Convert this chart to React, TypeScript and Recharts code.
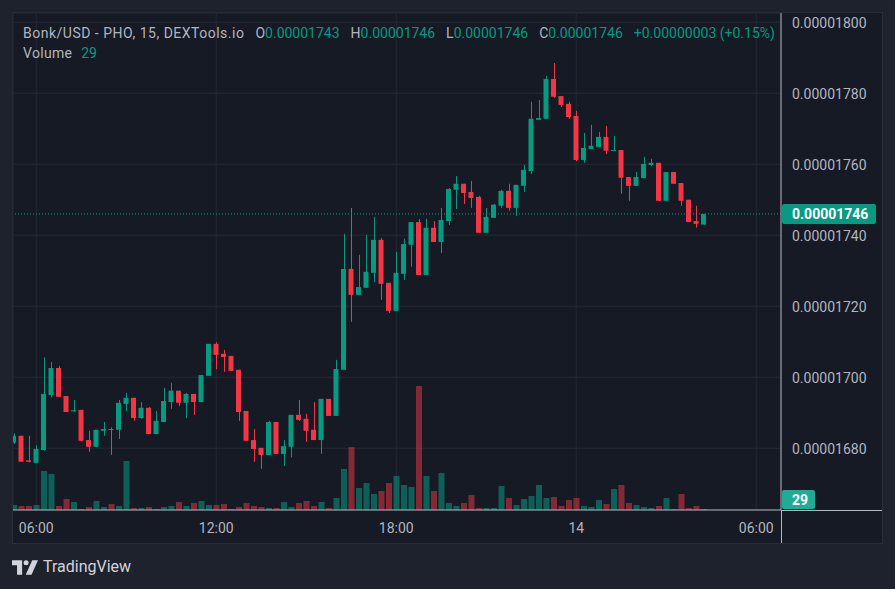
import React from 'react';
import { ComposedChart, Bar, XAxis, YAxis, CartesianGrid, ReferenceLine, Cell } from 'recharts';

// prices are in units of 1e-8 USD, one entry per 15 min candle
const opens = [
  1681.6, 1683.5, 1676.6, 1675.9, 1679.5, 1695.0, 1702.6, 1694.7, 1690.4, 1690.8,
  1682.3, 1680.4, 1684.9, 1685.4, 1685.2, 1692.5, 1694.2, 1688.5, 1691.4, 1684.0,
  1687.4, 1693.0, 1696.2, 1692.8, 1695.3, 1693.0, 1700.4, 1709.4, 1706.6, 1706.0,
  1702.1, 1690.5, 1682.3, 1680.1, 1678.1, 1687.4, 1678.4, 1680.4, 1689.4, 1688.3,
  1685.2, 1682.3, 1693.9, 1689.1, 1702.1, 1730.5, 1723.2, 1725.2, 1729.4, 1738.7,
  1726.6, 1718.7, 1729.1, 1737.3, 1743.7, 1728.8, 1742.1, 1738.1, 1744.0, 1752.8,
  1754.5, 1752.2, 1750.8, 1740.7, 1744.9, 1748.3, 1752.5, 1747.7, 1753.9, 1758.1,
  1772.5, 1772.8, 1784.0, 1779.2, 1777.0, 1773.6, 1761.2, 1764.3, 1764.9, 1767.7,
  1763.8, 1764.0, 1756.4, 1753.9, 1756.1, 1759.8, 1760.4, 1749.7, 1757.8, 1754.7,
  1750.0, 1744.0, 1743.0,
];
const highs = [
  1684.2, 1683.5, 1683.5, 1680.8, 1705.6, 1704.3, 1703.2, 1694.7, 1693.6, 1690.8,
  1684.9, 1685.2, 1687.4, 1685.9, 1693.6, 1695.6, 1694.2, 1693.0, 1691.6, 1690.5,
  1697.0, 1698.4, 1696.2, 1695.6, 1695.3, 1700.6, 1709.4, 1709.9, 1707.7, 1706.0,
  1702.1, 1690.5, 1685.4, 1680.1, 1687.7, 1687.4, 1682.3, 1689.4, 1693.6, 1689.7,
  1693.0, 1693.9, 1693.9, 1704.9, 1740.4, 1747.7, 1734.5, 1740.1, 1745.2, 1739.2,
  1726.6, 1735.3, 1739.0, 1743.7, 1744.6, 1744.6, 1744.0, 1747.7, 1753.3, 1756.7,
  1754.5, 1755.3, 1751.1, 1747.7, 1748.8, 1752.8, 1754.5, 1754.2, 1759.8, 1777.6,
  1778.1, 1784.9, 1788.5, 1779.2, 1777.6, 1775.0, 1768.8, 1771.1, 1769.1, 1770.8,
  1768.0, 1764.0, 1756.4, 1757.8, 1762.1, 1761.5, 1760.4, 1757.8, 1757.8, 1754.7,
  1750.0, 1748.3, 1746.0,
];
const lows = [
  1681.2, 1676.2, 1676.0, 1675.9, 1679.3, 1694.3, 1694.5, 1690.2, 1690.2, 1682.1,
  1679.0, 1680.4, 1683.5, 1678.1, 1682.6, 1690.5, 1687.7, 1688.3, 1684.0, 1684.0,
  1687.4, 1691.1, 1691.9, 1688.5, 1689.4, 1693.0, 1700.4, 1702.3, 1701.5, 1701.8,
  1687.7, 1682.1, 1676.1, 1674.2, 1678.1, 1678.4, 1675.0, 1677.4, 1687.7, 1681.8,
  1682.3, 1678.4, 1689.1, 1689.1, 1702.1, 1715.6, 1723.2, 1725.2, 1726.8, 1721.8,
  1718.1, 1718.7, 1727.4, 1731.1, 1728.8, 1728.8, 1738.1, 1735.0, 1742.9, 1747.4,
  1748.8, 1747.7, 1740.7, 1740.7, 1744.9, 1747.7, 1746.9, 1745.4, 1752.2, 1757.3,
  1772.5, 1772.8, 1778.7, 1776.1, 1772.8, 1760.9, 1760.4, 1764.3, 1764.9, 1762.9,
  1763.8, 1751.7, 1749.7, 1753.9, 1756.1, 1759.5, 1749.7, 1749.7, 1754.5, 1748.3,
  1743.7, 1742.1, 1743.0,
];
const closes = [
  1683.5, 1676.2, 1676.2, 1679.8, 1695.3, 1702.6, 1694.5, 1690.2, 1690.7, 1682.1,
  1680.4, 1685.2, 1685.4, 1685.2, 1692.8, 1694.2, 1688.5, 1691.4, 1684.0, 1687.7,
  1693.3, 1696.2, 1692.8, 1695.3, 1693.0, 1700.6, 1709.4, 1706.3, 1705.7, 1701.8,
  1690.2, 1682.1, 1679.8, 1678.1, 1687.4, 1678.4, 1680.6, 1689.4, 1688.0, 1684.9,
  1682.3, 1693.9, 1689.1, 1702.3, 1730.5, 1723.2, 1725.4, 1729.7, 1738.7, 1726.3,
  1718.7, 1729.4, 1737.5, 1743.7, 1728.8, 1742.1, 1738.1, 1744.3, 1753.0, 1754.5,
  1751.9, 1750.5, 1740.7, 1745.2, 1748.6, 1752.5, 1747.7, 1754.2, 1758.4, 1772.8,
  1773.0, 1784.0, 1779.0, 1776.7, 1773.3, 1761.2, 1764.6, 1765.2, 1767.7, 1763.8,
  1764.0, 1756.2, 1753.9, 1756.4, 1760.1, 1760.4, 1749.7, 1757.8, 1754.5, 1749.7,
  1743.7, 1743.2, 1746.0,
];
const volumes = [
  145, 116, 116, 145, 1131, 1044, 116, 319, 232, 29,
  87, 261, 87, 174, 116, 1421, 58, 58, 87, 29,
  87, 116, 232, 116, 203, 261, 145, 145, 174, 29,
  87, 203, 116, 87, 58, 58, 232, 87, 203, 261,
  116, 232, 58, 348, 1189, 1827, 638, 783, 464, 551,
  783, 986, 725, 667, 3596, 986, 551, 1073, 203, 116,
  203, 435, 58, 58, 58, 696, 348, 145, 319, 406,
  725, 348, 377, 116, 290, 348, 116, 87, 290, 174,
  609, 725, 203, 145, 87, 58, 116, 348, 29, 464,
  58, 116, 29,
];

const timeTicks = [3, 27, 51, 75, 99];
const timeLabels = ['06:00', '12:00', '18:00', '14', '06:00'];
const priceTicks = [1680, 1700, 1720, 1740, 1760, 1780, 1800];

const lastPrice = 1746;
const lastVolume = 29;
const header = { open: 1743, high: 1746, low: 1746, close: 1746, change: '+0.00000003 (+0.15%)' };

const UP = '#089981';
const DOWN = '#f23645';
const TEXT = '#b2b5be';
const FONT = 'Roboto, "Noto Sans", sans-serif';

const data = opens.map((open, i) => ({
  i,
  open,
  high: highs[i],
  low: lows[i],
  close: closes[i],
  volume: volumes[i],
}));

const fmt = (v: number) => (v / 1e8).toFixed(8);

const Candle = (props: any) => {
  const { x, y, width, height, payload } = props;
  const { open, close, high, low } = payload;
  const color = close >= open ? UP : DOWN;
  const top = Math.min(y, y + height);
  const h = Math.abs(height);
  const k = high > low ? h / (high - low) : 0;
  const yo = top + (high - open) * k;
  const yc = top + (high - close) * k;
  const cx = Math.round(x + width / 2) + 0.5;
  return (
    <g>
      <line x1={cx} x2={cx} y1={top} y2={top + h} stroke={color} strokeWidth={1} />
      <rect x={x} y={Math.min(yo, yc)} width={width} height={Math.max(1, Math.abs(yo - yc))} fill={color} />
    </g>
  );
};

const PriceTag = ({ viewBox }: any) => {
  if (!viewBox) return null;
  const x = viewBox.x + viewBox.width + 1;
  return (
    <g>
      <rect x={x} y={viewBox.y - 10} width={94} height={20} rx={2} fill={UP} />
      <text x={x + 10} y={viewBox.y + 5} fill="#fff" fontSize={14} fontWeight={700} fontFamily={FONT}>
        {fmt(lastPrice)}
      </text>
    </g>
  );
};

const VolumeTag = ({ viewBox }: any) => {
  if (!viewBox) return null;
  const x = viewBox.x + viewBox.width + 1;
  return (
    <g>
      <rect x={x} y={viewBox.y - 19} width={33} height={19} rx={2} fill="#22ab94" />
      <text x={x + 10} y={viewBox.y - 4} fill="#fff" fontSize={14} fontWeight={700} fontFamily={FONT}>
        {lastVolume}
      </text>
    </g>
  );
};

const xDomain = [-0.1, 102.3];

export default function App() {
  return (
    <div style={{ position: 'absolute', left: 0, top: 0, width: 895, height: 589, background: '#1e222d', fontFamily: FONT }}>
      <div style={{ position: 'absolute', left: 12, top: 12, width: 871, height: 532, boxSizing: 'border-box', border: '1px solid #2a2e39', background: '#161a25' }} />
      <div style={{ position: 'absolute', left: 781, top: 510, width: 1, height: 33, background: TEXT }} />
      <div style={{ position: 'absolute', left: 781, top: 510, width: 101, height: 1, background: TEXT }} />

      <ComposedChart
        width={895}
        height={589}
        data={data}
        margin={{ top: 13, left: 13, right: 13, bottom: 46 }}
        style={{ position: 'absolute', left: 0, top: 0 }}
      >
        <CartesianGrid xAxisId="c" yAxisId="p" stroke="#252934" />
        <XAxis
          xAxisId="c"
          dataKey="i"
          type="number"
          domain={xDomain}
          allowDataOverflow
          ticks={timeTicks}
          tickFormatter={(v) => timeLabels[timeTicks.indexOf(v)] ?? ''}
          tick={{ fill: TEXT, fontSize: 14, fontFamily: FONT }}
          tickLine={false}
          axisLine={{ stroke: TEXT }}
          height={33}
          tickMargin={7}
          interval={0}
        />
        <XAxis xAxisId="v" dataKey="i" type="number" domain={xDomain} allowDataOverflow hide />
        <YAxis
          yAxisId="p"
          orientation="right"
          type="number"
          domain={[1662.6, 1802.6]}
          allowDataOverflow
          ticks={priceTicks}
          tickFormatter={fmt}
          tick={{ fill: TEXT, fontSize: 14, fontFamily: FONT, dy: 1 }}
          tickLine={false}
          axisLine={{ stroke: TEXT }}
          width={101}
          tickMargin={5}
          interval={0}
        />
        <YAxis yAxisId="v" type="number" domain={[0, 14413]} allowDataOverflow hide />

        <Bar xAxisId="v" yAxisId="v" dataKey="volume" barSize={6} isAnimationActive={false}>
          {data.map((d, idx) => (
            <Cell key={idx} fill={d.close >= d.open ? 'rgba(8,153,129,0.55)' : 'rgba(242,54,69,0.5)'} />
          ))}
        </Bar>
        <Bar
          xAxisId="c"
          yAxisId="p"
          dataKey={(d: any) => [d.low, d.high]}
          barSize={5}
          shape={Candle}
          isAnimationActive={false}
        />
        <ReferenceLine
          xAxisId="c"
          yAxisId="p"
          y={lastPrice}
          stroke={UP}
          strokeDasharray="1 2"
          label={PriceTag}
        />
        <ReferenceLine xAxisId="v" yAxisId="v" y={lastVolume} stroke="none" label={VolumeTag} />
      </ComposedChart>

      <div style={{ position: 'absolute', left: 23, top: 25, display: 'flex', gap: 11, fontSize: 14, lineHeight: '16px', color: TEXT, whiteSpace: 'nowrap' }}>
        <span style={{ letterSpacing: 0.5 }}>Bonk/USD - PHO, 15, DEXTools.io</span>
        <span>O<span style={{ color: UP }}>{fmt(header.open)}</span></span>
        <span>H<span style={{ color: UP }}>{fmt(header.high)}</span></span>
        <span>L<span style={{ color: UP }}>{fmt(header.low)}</span></span>
        <span>C<span style={{ color: UP }}>{fmt(header.close)}</span></span>
        <span style={{ color: UP }}>{header.change}</span>
      </div>
      <div style={{ position: 'absolute', left: 23, top: 45, fontSize: 14, lineHeight: '16px', color: TEXT }}>
        <span style={{ letterSpacing: 0.3 }}>Volume</span>
        <span style={{ color: UP, marginLeft: 9 }}>{lastVolume}</span>
      </div>

      <div style={{ position: 'absolute', left: 12, top: 559, display: 'flex', alignItems: 'center', gap: 5 }}>
        <svg width={26} height={15} viewBox="0 0 36 20">
          <path d="M0 0h14v20H7V7H0z" fill="#d1d4dc" />
          <circle cx={19.5} cy={3.5} r={3.5} fill="#d1d4dc" />
          <path d="M28 0h8l-9 20h-8z" fill="#d1d4dc" />
        </svg>
        <span style={{ color: '#d1d4dc', fontSize: 16, lineHeight: '16px' }}>TradingView</span>
      </div>
    </div>
  );
}
